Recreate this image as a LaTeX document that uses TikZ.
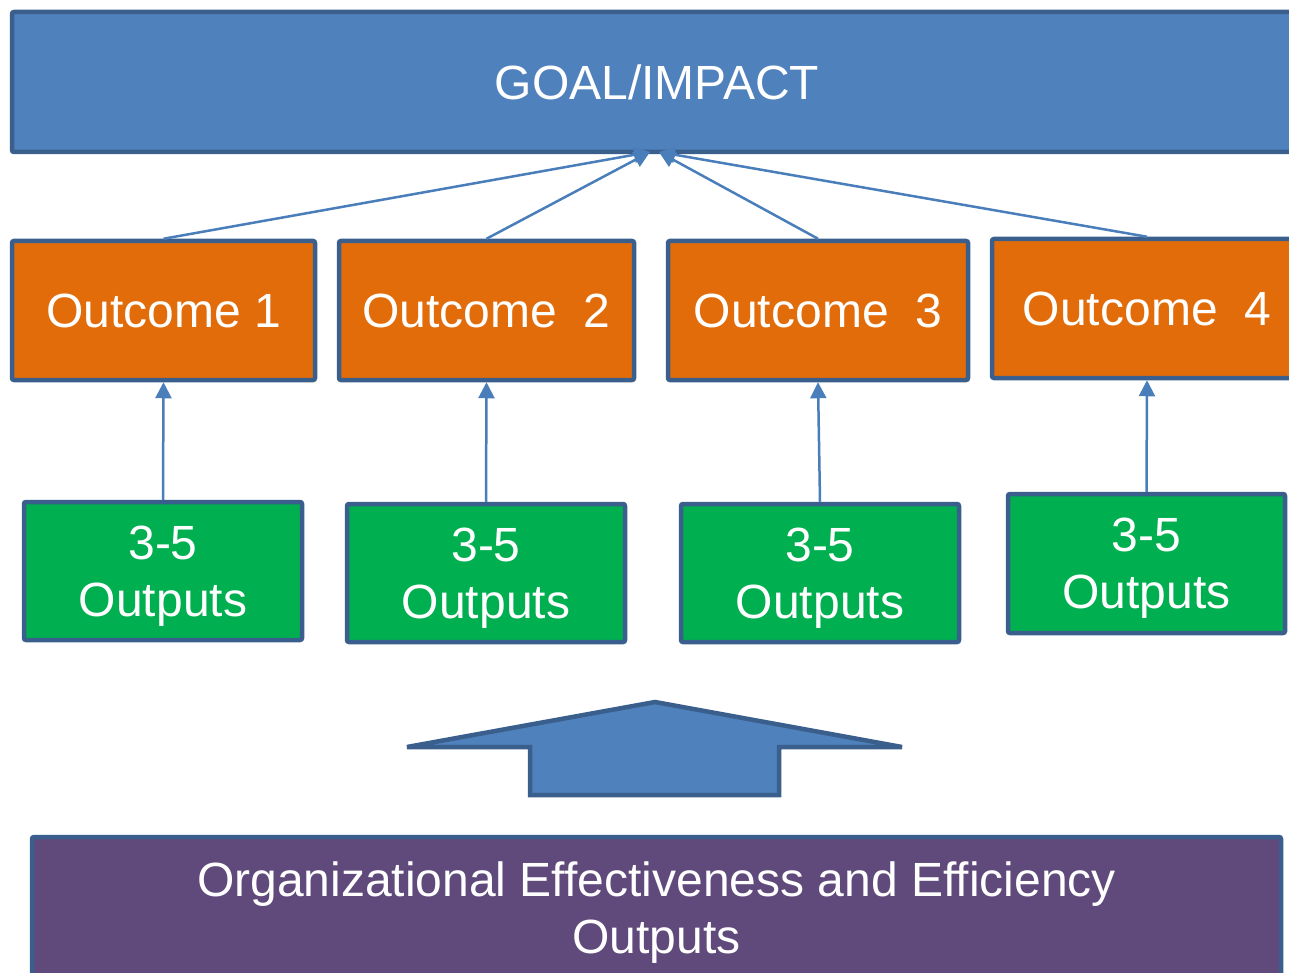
\documentclass[tikz,border=0pt]{standalone}
\usepackage{fontspec}
\setmainfont{Liberation Sans}
\usetikzlibrary{arrows.meta}
\definecolor{goalfill}{HTML}{4F81BD}
\definecolor{boxline}{HTML}{3A5F8D}
\definecolor{ocfill}{HTML}{E36C0A}
\definecolor{opfill}{HTML}{00B050}
\definecolor{orgfill}{HTML}{604A7B}
\definecolor{conn}{HTML}{4A7EBB}
\tikzset{
  txt/.style={text=white, font=\fontsize{48}{57}\selectfont, align=center, inner sep=0pt},
  box/.style={draw=boxline, line width=4.5pt, rounded corners=2pt, txt},
  goalbox/.style={box, fill=goalfill},
  ocbox/.style={box, fill=ocfill},
  opbox/.style={box, fill=opfill},
  orgbox/.style={box, fill=orgfill},
  lowtext/.style={label={[txt, yshift=-5pt]center:#1}},
  conn/.style={draw=conn, line width=2.5pt, -{Triangle[length=16pt,width=16pt]}},
  bigarrow/.style={draw=boxline, fill=goalfill, line width=4.5pt}
}
\begin{document}
\begin{tikzpicture}[x=1pt,y=-1pt]
\useasboundingbox (0,0) rectangle (1289,973);
\clip (0,0) rectangle (1289,973);
\node[goalbox, minimum width=1290pt, minimum height=140pt] (goal) at (657,82) {\raisebox{-1pt}{GOAL/IMPACT}};
\node[ocbox, minimum width=303pt, minimum height=139pt] (oc1) at (163.5,310.5) {\raisebox{-2pt}{Outcome 1}};
\node[ocbox, minimum width=295pt, minimum height=139pt] (oc2) at (486.5,310.5) {\raisebox{-2pt}{Outcome\ \ 2}};
\node[ocbox, minimum width=300pt, minimum height=139pt] (oc3) at (818,310.5) {\raisebox{-2pt}{Outcome\ \ 3}};
\node[ocbox, minimum width=310pt, minimum height=139pt] (oc4) at (1147,308.5) {\raisebox{-2pt}{Outcome\ \ 4}};
\node[opbox, minimum width=278pt, minimum height=138pt, lowtext={3-5\\Outputs}] (op1) at (163,571) {};
\node[opbox, minimum width=278pt, minimum height=138pt, lowtext={3-5\\Outputs}] (op2) at (486,573) {};
\node[opbox, minimum width=278pt, minimum height=138pt, lowtext={3-5\\Outputs}] (op3) at (820,573) {};
\node[opbox, minimum width=277pt, minimum height=139pt, lowtext={3-5\\Outputs}] (op4) at (1146.5,563.5) {};
\node[orgbox, minimum width=1249pt, minimum height=142pt, lowtext={Organizational Effectiveness and Efficiency\\Outputs}] (org) at (656.5,908) {};
\coordinate (ga) at (650,152);
\coordinate (gb) at (659,152);
\draw[conn] (oc1.north) -- (ga);
\draw[conn] (oc2.north) -- (ga);
\draw[conn] (oc3.north) -- (gb);
\draw[conn] (oc4.north) -- (gb);
\draw[conn] (op1.north) -- (oc1.south);
\draw[conn] (op2.north) -- (oc2.south);
\draw[conn] (op3.north) -- (oc3.south);
\draw[conn] (op4.north) -- (oc4.south);
\draw[bigarrow] (407,747) -- (655,702) -- (902,747) -- (779,747) -- (779,795) -- (530,795) -- (530,747) -- cycle;
\end{tikzpicture}
\end{document}
